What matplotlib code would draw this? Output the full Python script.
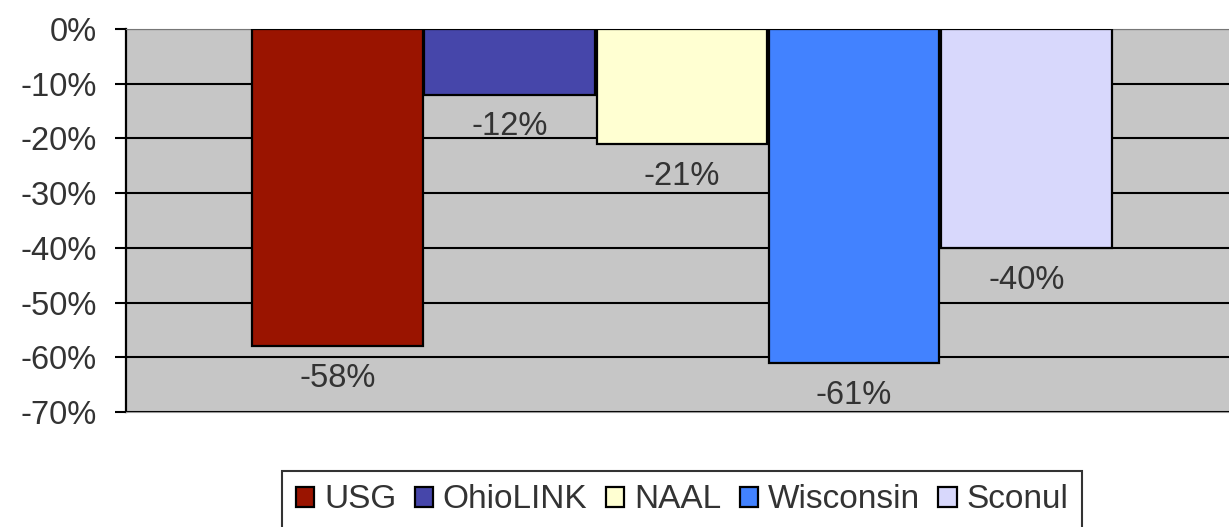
import matplotlib.pyplot as plt
from matplotlib.ticker import FuncFormatter

plt.rcParams['font.family'] = ['Liberation Sans', 'DejaVu Sans']

# data
series = ["USG", "OhioLINK", "NAAL", "Wisconsin", "Sconul"]
change_pct = [-58, -12, -21, -61, -40]
colors = ["#9a1400", "#4646aa", "#ffffd2", "#4282ff", "#d8d8fc"]
y_ticks = [0, -10, -20, -30, -40, -50, -60, -70]

fig = plt.figure(figsize=(12.29, 5.27), dpi=100)
ax = fig.add_axes([0.1025, 0.218, 0.8975, 0.727])
ax.set_facecolor('#c6c6c6')

positions = list(range(len(series)))
bars = ax.bar(positions, change_pct, width=0.99, color=colors,
              edgecolor='black', linewidth=1.6, label=series, zorder=3)

ax.set_xlim(-1.228, 5.177)
ax.set_ylim(-70, 0)
ax.set_yticks(y_ticks)
ax.yaxis.set_major_formatter(FuncFormatter(lambda v, p: f'{int(v)}%'))
ax.tick_params(axis='y', labelsize=23.5, length=8, width=1.5, colors='black',
               labelcolor='#333333', pad=13)
ax.set_xticks([])
ax.grid(axis='y', color='black', linewidth=1.5, zorder=1)

ax.spines['right'].set_visible(False)
ax.spines['left'].set_linewidth(1.6)
ax.spines['top'].set_color('#777777')
ax.spines['bottom'].set_color('#999999')

# value labels under the bar ends
for bar, v in zip(bars, change_pct):
    ax.annotate(f'{v}%', xy=(bar.get_x() + bar.get_width() / 2, v),
                xytext=(0, -12), textcoords='offset points',
                ha='center', va='top', fontsize=23.5, color='#333333', zorder=4)

leg = fig.legend(handles=bars, labels=series, loc='upper center',
                 bbox_to_anchor=(0.555, 0.106), ncol=5, fontsize=24,
                 frameon=True, fancybox=False, edgecolor='black',
                 handlelength=0.55, handleheight=0.55, handletextpad=0.3,
                 columnspacing=0.55, borderpad=0.4, borderaxespad=0)
leg.get_frame().set_linewidth(1.5)
for t in leg.get_texts():
    t.set_color('#333333')

fig.savefig('out.png', dpi=100)
